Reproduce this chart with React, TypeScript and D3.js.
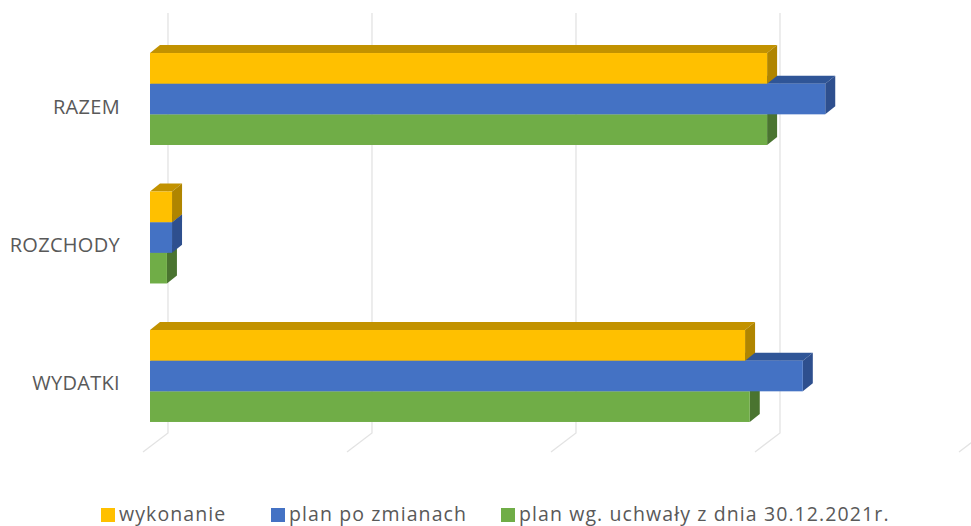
import React from "react";
import * as d3 from "d3";

const categories = ["RAZEM", "ROZCHODY", "WYDATKI"];
const seriesNames = ["wykonanie", "plan po zmianach", "plan wg. uchwały z dnia 30.12.2021r."];
const wykonanie = [30.25, 1.08, 29.17];
const planPoZmianach = [33.1, 1.08, 32.0];
const planUchwaly = [30.25, 0.83, 29.4];
const tickValues = [0, 10, 20, 30, 40];

const seriesValues = [wykonanie, planPoZmianach, planUchwaly];
const frontColors = ["#FFC000", "#4472C4", "#70AD47"];
const topColors = ["#C29200", "#2F5597", "#557F36"];
const sideColors = ["#B08500", "#2E4F8E", "#4A7430"];

const W = 971;
const H = 526;
const DX = 10; // depth offset x
const DY = -8; // depth offset y

export default function App() {
  const x = d3.scaleLinear().domain([0, 10]).range([150, 354]);
  const y = d3
    .scaleBand<string>()
    .domain(categories)
    .range([6.5, 468.5])
    .paddingInner(0.336)
    .paddingOuter(0.336);
  const inner = d3
    .scaleBand<string>()
    .domain(seriesNames)
    .range([0, y.bandwidth()])
    .padding(0);

  const bars: React.ReactNode[] = [];
  categories.forEach((cat, ci) => {
    for (let si = seriesNames.length - 1; si >= 0; si--) {
      const v = seriesValues[si][ci];
      const x0 = x(0);
      const x1 = x(v);
      const y0 = (y(cat) as number) + (inner(seriesNames[si]) as number);
      const y1 = y0 + inner.bandwidth();
      const top = `${x0},${y0} ${x1},${y0} ${x1 + DX},${y0 + DY} ${x0 + DX},${y0 + DY}`;
      const side = `${x1},${y0} ${x1 + DX},${y0 + DY} ${x1 + DX},${y1 + DY} ${x1},${y1}`;
      bars.push(
        <g key={`${cat}-${si}`}>
          <polygon points={top} fill={topColors[si]} />
          <polygon points={side} fill={sideColors[si]} />
          <rect x={x0} y={y0} width={x1 - x0} height={y1 - y0} fill={frontColors[si]} />
        </g>
      );
    }
  });

  const grid = tickValues.map((t) => {
    const bx = x(t) + 18;
    const fx = x(t) - 7;
    return (
      <polyline
        key={t}
        points={`${bx},13 ${bx},433 ${fx},452`}
        fill="none"
        stroke="#e3e3e3"
        strokeWidth={1.3}
      />
    );
  });

  const legendX = [101, 271, 501];

  return (
    <svg
      width={W}
      height={H}
      style={{ position: "absolute", left: 0, top: 0, background: "#fff" }}
      fontFamily="'Open Sans', sans-serif"
    >
      <rect width={W} height={H} fill="#fff" />
      {grid}
      {bars}
      {categories.map((c) => (
        <text
          key={c}
          x={120}
          y={(y(c) as number) + y.bandwidth() / 2 + 7}
          textAnchor="end"
          dominantBaseline="central"
          fontSize={20}
          letterSpacing={0.3}
          fill="#595959"
        >
          {c}
        </text>
      ))}
      {seriesNames.map((s, i) => (
        <g key={s} transform={`translate(${legendX[i]},508)`}>
          <rect width={14} height={14} fill={frontColors[i]} />
          <text x={18} y={13.2} fontSize={19.5} letterSpacing={1.1} fill="#595959">
            {s}
          </text>
        </g>
      ))}
    </svg>
  );
}
